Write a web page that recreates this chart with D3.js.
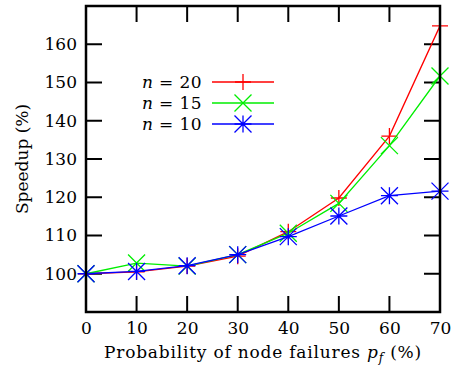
<!DOCTYPE html>
<html>
<head>
<meta charset="utf-8">
<script src="https://cdn.jsdelivr.net/npm/d3@7"></script>
<style>
  body { margin: 0; background: #fff; }
  text { fill: #000; }
</style>
</head>
<body>
<svg id="chart" width="454" height="369"></svg>
<script>
// data
const failureProb = [0, 10, 20, 30, 40, 50, 60, 70];
const speedupN20 = [100, 100.5, 102, 104.6, 111, 119.8, 136, 164.8];
const speedupN15 = [100, 102.8, 102, 105, 110.6, 118.4, 133.5, 151.7];
const speedupN10 = [100, 100.6, 102.1, 105, 109.7, 115.1, 120.4, 121.6];
const seriesNames = ['n = 20', 'n = 15', 'n = 10'];
const seriesColors = ['#ff0000', '#00ee00', '#0000ff'];
const seriesMarkers = ['plus', 'cross', 'star'];
const yTicks = [100, 110, 120, 130, 140, 150, 160];

const series = [speedupN20, speedupN15, speedupN10].map((vals, i) => ({
  name: seriesNames[i], color: seriesColors[i], marker: seriesMarkers[i],
  points: vals.map((v, j) => ({ x: failureProb[j], y: v }))
}));

const FONT = '"DejaVu Serif", "DejaVu Sans", serif';
const FS = 17;
const margin = { top: 6, right: 14, bottom: 57, left: 86 };
const width = 454 - margin.left - margin.right;
const height = 369 - margin.top - margin.bottom;

const svg = d3.select('#chart');
const g = svg.append('g').attr('transform', `translate(${margin.left},${margin.top})`);

const x = d3.scaleLinear().domain([0, 70]).range([0, width]);
const y = d3.scaleLinear().domain([90, 170]).range([height, 0]);

const tick = 16;
const xAxis = d3.axisBottom(x).tickValues(failureProb).tickSize(0).tickPadding(10);
const yAxis = d3.axisLeft(y).tickValues(yTicks).tickSize(0).tickPadding(9);

g.append('g').attr('transform', `translate(0,${height})`).call(xAxis)
  .attr('font-family', FONT)
  .call(a => a.select('.domain').remove())
  .selectAll('text').attr('font-size', FS);
g.append('g').call(yAxis)
  .attr('font-family', FONT)
  .call(a => a.select('.domain').remove())
  .selectAll('text').attr('font-size', FS);

// inward ticks on all four sides
const tk = g.append('g').attr('stroke', '#000').attr('stroke-width', 2);
failureProb.slice(1, -1).forEach(v => {
  tk.append('line').attr('x1', x(v)).attr('x2', x(v)).attr('y1', height).attr('y2', height - tick);
  tk.append('line').attr('x1', x(v)).attr('x2', x(v)).attr('y1', 0).attr('y2', tick);
});
yTicks.forEach(v => {
  tk.append('line').attr('x1', 0).attr('x2', tick).attr('y1', y(v)).attr('y2', y(v));
  tk.append('line').attr('x1', width).attr('x2', width - tick).attr('y1', y(v)).attr('y2', y(v));
});

function markerPath(type, s) {
  const p = d3.path();
  if (type === 'plus' || type === 'star') {
    p.moveTo(-s, 0); p.lineTo(s, 0); p.moveTo(0, -s); p.lineTo(0, s);
  }
  if (type === 'cross' || type === 'star') {
    p.moveTo(-s, -s); p.lineTo(s, s); p.moveTo(-s, s); p.lineTo(s, -s);
  }
  return p.toString();
}
const msize = { plus: 8, cross: 8.5, star: 8.5 };

const line = d3.line().x(d => x(d.x)).y(d => y(d.y));
series.forEach(s => {
  g.append('path').datum(s.points).attr('d', line)
    .attr('fill', 'none').attr('stroke', s.color).attr('stroke-width', 1.3);
  g.selectAll(null).data(s.points).enter().append('path')
    .attr('transform', d => `translate(${x(d.x)},${y(d.y)})`)
    .attr('d', markerPath(s.marker, msize[s.marker]))
    .attr('fill', 'none').attr('stroke', s.color).attr('stroke-width', 1.3);
});

// frame
g.append('rect').attr('width', width).attr('height', height)
  .attr('fill', 'none').attr('stroke', '#000').attr('stroke-width', 2.5);

// legend
const lg = svg.append('g').attr('font-family', FONT);
series.forEach((s, i) => {
  const ly = 82 + i * 21;
  const t = lg.append('text').attr('x', 202).attr('y', ly + 6).attr('text-anchor', 'end')
    .attr('font-size', FS).attr('letter-spacing', 0.4);
  t.append('tspan').attr('font-style', 'italic').text('n');
  t.append('tspan').text(' = ' + s.name.split(' = ')[1]);
  lg.append('line').attr('x1', 212).attr('x2', 274).attr('y1', ly).attr('y2', ly)
    .attr('stroke', s.color).attr('stroke-width', 1.3);
  lg.append('path').attr('transform', `translate(243,${ly})`)
    .attr('d', markerPath(s.marker, msize[s.marker]))
    .attr('fill', 'none').attr('stroke', s.color).attr('stroke-width', 1.3);
});

// axis titles
svg.append('text').attr('transform', 'translate(28,159) rotate(-90)')
  .attr('font-family', FONT)
  .attr('text-anchor', 'middle').attr('font-size', FS).text('Speedup (%)');
const xt = svg.append('text').attr('x', 263).attr('y', 358)
  .attr('font-family', FONT).attr('letter-spacing', 0.8)
  .attr('text-anchor', 'middle').attr('font-size', FS);
xt.append('tspan').text('Probability of node failures ');
xt.append('tspan').attr('font-style', 'italic').text('p');
xt.append('tspan').attr('font-style', 'italic').attr('font-size', 12).attr('dy', 4).text('f');
xt.append('tspan').attr('dy', -4).text(' (%)');
</script>
</body>
</html>
